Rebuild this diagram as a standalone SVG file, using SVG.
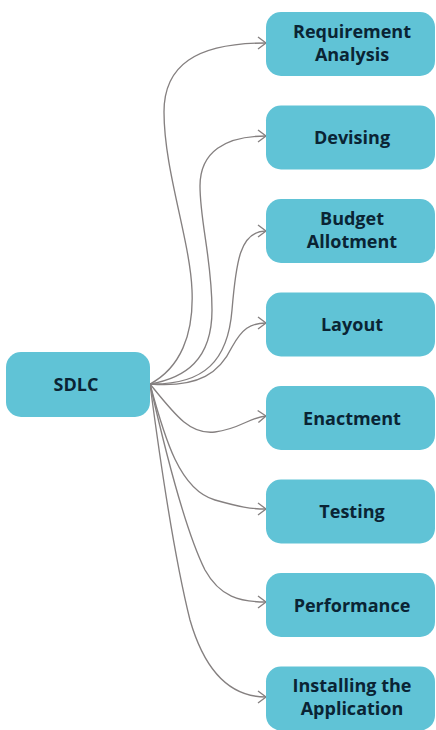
<svg xmlns="http://www.w3.org/2000/svg" width="436" height="730" viewBox="0 0 436 730">
<defs>
<style>
.node rect{fill:#60C3D6;}
.node text{font-family:"Open Sans","Noto Sans","Liberation Sans",sans-serif;font-weight:700;font-size:18px;fill:#0A2434;text-anchor:middle;}
.edges path{fill:none;stroke:#858080;stroke-width:1.35;marker-end:url(#arr);}
</style>
<marker id="arr" markerUnits="userSpaceOnUse" markerWidth="12" markerHeight="14" refX="9" refY="7" orient="auto">
<path d="M1,1 L9,7 L1,13" fill="none" stroke="#858080" stroke-width="1.35"/>
</marker>
</defs>
<rect width="436" height="730" fill="#ffffff"/>
<g class="edges" id="connectors">
<path d="M150,384 C180,368 194,335 192,290 C190,240 164,170 164,112 C164,66 195,43 266,43"/>
<path d="M150,384 C185,378 212,360 212,310 C212,260 200,222 200,186 C200,152 225,136 266,136"/>
<path d="M150,384 C205,385 228,360 232,310 C236,262 240,231 266,231"/>
<path d="M150,384 C200,388 220,372 232,347 C242,329 250,323 266,323"/>
<path d="M150,384 C175,415 190,435 215,432 C240,429 250,417 266,416"/>
<path d="M150,384 C165,440 180,490 215,500 C240,507 250,509 266,509"/>
<path d="M150,384 C165,450 185,530 205,570 C220,597 240,602 266,602"/>
<path d="M150,384 C160,460 175,560 190,620 C205,672 230,697 266,697"/>
</g>
<g class="node" id="sdlc"><rect x="6" y="352" width="144" height="65" rx="15"/><text x="76" y="391">SDLC</text></g>
<g class="node" id="n1"><rect x="266" y="12" width="169" height="64" rx="15"/><text x="352" y="38">Requirement</text><text x="352" y="61">Analysis</text></g>
<g class="node" id="n2"><rect x="266" y="105.5" width="169" height="64" rx="15"/><text x="352" y="144">Devising</text></g>
<g class="node" id="n3"><rect x="266" y="199" width="169" height="64" rx="15"/><text x="352" y="225">Budget</text><text x="352" y="248">Allotment</text></g>
<g class="node" id="n4"><rect x="266" y="292.5" width="169" height="64" rx="15"/><text x="352" y="331">Layout</text></g>
<g class="node" id="n5"><rect x="266" y="386" width="169" height="64" rx="15"/><text x="352" y="424.5">Enactment</text></g>
<g class="node" id="n6"><rect x="266" y="479.5" width="169" height="64" rx="15"/><text x="352" y="518">Testing</text></g>
<g class="node" id="n7"><rect x="266" y="573" width="169" height="64" rx="15"/><text x="352" y="611.5">Performance</text></g>
<g class="node" id="n8"><rect x="266" y="666.5" width="169" height="64" rx="15"/><text x="352" y="692">Installing the</text><text x="352" y="715">Application</text></g>
</svg>
